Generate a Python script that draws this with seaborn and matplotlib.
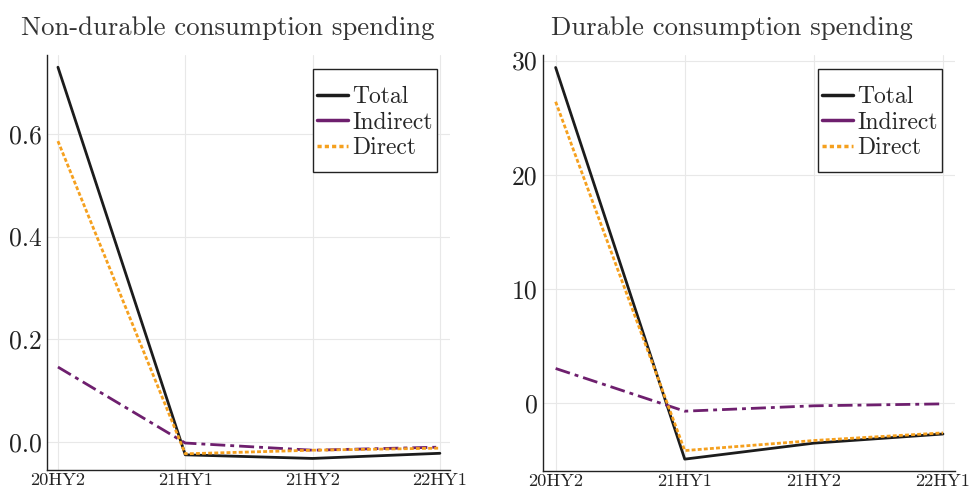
import numpy as np
import matplotlib
matplotlib.use("Agg")
import matplotlib.pyplot as plt
from matplotlib.lines import Line2D
from matplotlib.patches import Rectangle
from matplotlib.transforms import IdentityTransform
import seaborn as sns

sns.set_theme(style="white")
plt.rcParams['font.family'] = ['cmr10', 'DejaVu Serif']
plt.rcParams['mathtext.fontset'] = 'cm'
plt.rcParams['axes.formatter.use_mathtext'] = True
plt.rcParams['axes.unicode_minus'] = False

periods = ["20HY2", "21HY1", "21HY2", "22HY1"]

# non-durable spending
nd_total = [0.730, -0.025, -0.032, -0.022]
nd_indirect = [0.146, -0.002, -0.016, -0.010]
nd_direct = [0.586, -0.023, -0.016, -0.012]

# durable spending
d_total = [29.4, -4.9, -3.5, -2.7]
d_indirect = [3.04, -0.70, -0.23, -0.06]
d_direct = [26.4, -4.15, -3.27, -2.6]

titles = ["Non-durable consumption spending", "Durable consumption spending"]
series_names = ["Total", "Indirect", "Direct"]

c_total = '#1c1c1c'
c_ind = '#6e1f6e'
c_dir = '#f5a01e'
styles = {
    "Total": dict(color=c_total, lw=2.0, ls='-'),
    "Indirect": dict(color=c_ind, lw=2.0, ls=(0, (5.4, 1.8, 1.4, 1.8))),
    "Direct": dict(color=c_dir, lw=2.0, ls=(0, (1.4, 0.8))),
}

fig = plt.figure(figsize=(9.71, 4.93), dpi=100)
ax1 = fig.add_axes([0.0484, 0.0467, 0.415, 0.842])
ax2 = fig.add_axes([0.5592, 0.0446, 0.4243, 0.844])

panels = [
    (ax1, [nd_total, nd_indirect, nd_direct], (-0.0545, 0.754), [0.0, 0.2, 0.4, 0.6], ["0.0", "0.2", "0.4", "0.6"], (-0.086, 3.079), 0.448),
    (ax2, [d_total, d_indirect, d_direct], (-5.94, 30.5), [0, 10, 20, 30], ["0", "10", "20", "30"], (-0.098, 3.093), 0.459),
]

legends = []
for i, (ax, vals, ylim, yt, ytl, xlim, tx) in enumerate(panels):
    x = np.arange(len(periods))
    for name, v in zip(series_names, vals):
        st = styles[name]
        sns.lineplot(x=x, y=v, ax=ax, color=st['color'], lw=st['lw'], linestyle=st['ls'])
    ax.set_xlim(*xlim)
    ax.set_ylim(*ylim)
    ax.set_xticks(x)
    ax.set_xticklabels(periods, fontsize=13.2, color='#222222')
    ax.set_yticks(yt)
    ax.set_yticklabels(ytl, fontsize=18.5, color='#222222')
    ax.grid(True, color='#e8e8e8', lw=0.8)
    for s in ['top', 'right']:
        ax.spines[s].set_visible(False)
    for s in ['left', 'bottom']:
        ax.spines[s].set_color('#222222')
        ax.spines[s].set_linewidth(1.0)
    ax.tick_params(direction='in', length=5, width=0.8, color='#222222', pad=4)
    ax.tick_params(axis='x', pad=2)
    handles = [
        Line2D([], [], color=c_total, lw=2.5),
        Line2D([], [], color=c_ind, lw=2.5),
        Line2D([], [], color=c_dir, lw=2.5, ls=(0, (1.2, 0.9))),
    ]
    bb_ax = ax.get_window_extent()
    anchor = (1 - 13 / bb_ax.width, 1 - 27 / bb_ax.height)
    leg = ax.legend(handles, series_names, loc='upper right', fontsize=17,
                    frameon=False, bbox_to_anchor=anchor, borderaxespad=0,
                    handlelength=1.3, handletextpad=0.2,
                    labelspacing=0.145, borderpad=0.17)
    leg.set_zorder(6)
    legends.append((ax, leg))
    ax.set_title(titles[i], fontsize=19.2, color='#333333', x=tx, pad=14)

fig.canvas.draw()
for ax, leg in legends:
    bb = leg.get_window_extent()
    rect = Rectangle((bb.x0, bb.y0 - 9), bb.width, bb.height + 22,
                     transform=IdentityTransform(), facecolor='white',
                     edgecolor='#222222', lw=1.0, zorder=5, clip_on=False)
    ax.add_patch(rect)

fig.savefig("out.png", dpi=100)
